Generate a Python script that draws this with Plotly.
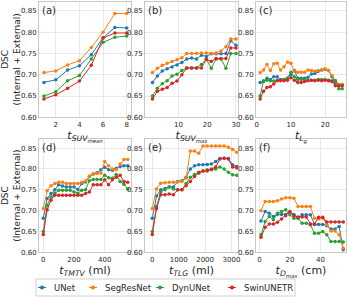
import plotly.graph_objects as go

# ---------------- data ----------------
MODELS = ["UNet", "SegResNet", "DynUNet", "SwinUNETR"]
COLORS = ["#1f77b4", "#ff7f0e", "#2ca02c", "#d62728"]
PANEL_LABELS = ["(a)", "(b)", "(c)", "(d)", "(e)", "(f)"]
X_TITLES = [
    "<i>t</i><sub><i>SUV</i><sub><i>mean</i></sub></sub>",
    "<i>t</i><sub><i>SUV</i><sub><i>max</i></sub></sub>",
    "<i>t</i><sub><i>L</i><sub><i>g</i></sub></sub>",
    "<i>t</i><sub><i>TMTV</i></sub> (ml)",
    "<i>t</i><sub><i>TLG</i></sub> (ml)",
    "<i>t</i><sub><i>D</i><sub><i>max</i></sub></sub> (cm)",
]
Y_TITLE = "DSC<br>(Internal + External)"
Y_TICKS = [0.60, 0.65, 0.70, 0.75, 0.80, 0.85]

# (a) SUVmean threshold
x_a = [1, 2, 3, 4, 5, 6, 7, 8]
unet_a = [0.682, 0.688, 0.711, 0.721, 0.747, 0.787, 0.811, 0.810]
segres_a = [0.705, 0.709, 0.723, 0.733, 0.764, 0.800, 0.844, 0.844]
dyn_a = [0.650, 0.660, 0.686, 0.698, 0.737, 0.776, 0.788, 0.791]
swin_a = [0.643, 0.653, 0.668, 0.685, 0.722, 0.786, 0.798, 0.798]

# (b) SUVmax threshold
x_b = [1.0, 2.7, 4.4, 6.1, 7.8, 9.5, 11.2, 12.9, 14.6, 16.3, 18.0, 19.7, 21.4, 23.1, 24.8, 26.5, 28.2, 30.0]
unet_b = [0.682, 0.697, 0.709, 0.714, 0.718, 0.723, 0.729, 0.737, 0.739, 0.737, 0.746, 0.743, 0.749, 0.749, 0.749, 0.750, 0.780, 0.769]
segres_b = [0.705, 0.715, 0.722, 0.727, 0.731, 0.735, 0.740, 0.750, 0.750, 0.750, 0.751, 0.751, 0.750, 0.751, 0.756, 0.766, 0.784, 0.784]
dyn_b = [0.650, 0.668, 0.679, 0.686, 0.697, 0.701, 0.710, 0.716, 0.716, 0.716, 0.724, 0.737, 0.715, 0.737, 0.737, 0.715, 0.750, 0.750]
swin_b = [0.643, 0.661, 0.666, 0.670, 0.680, 0.685, 0.700, 0.716, 0.716, 0.716, 0.716, 0.736, 0.731, 0.738, 0.738, 0.738, 0.763, 0.763]

# (c) Lg threshold
x_c = [1, 2, 3, 4, 5, 6, 7, 8, 9, 10, 11, 12, 13, 14, 15, 16, 17, 18, 19, 20, 21, 22, 23, 24, 25]
unet_c = [0.682, 0.684, 0.692, 0.689, 0.695, 0.695, 0.689, 0.689, 0.692, 0.700, 0.710, 0.692, 0.692, 0.692, 0.694,
          0.702, 0.703, 0.708, 0.711, 0.713, 0.710, 0.695, 0.682, 0.677, 0.677]
segres_c = [0.705, 0.711, 0.724, 0.710, 0.726, 0.727, 0.711, 0.719, 0.730, 0.727, 0.708, 0.706, 0.706, 0.706, 0.711,
            0.710, 0.708, 0.710, 0.711, 0.714, 0.710, 0.698, 0.686, 0.677, 0.677]
dyn_c = [0.650, 0.686, 0.687, 0.686, 0.685, 0.687, 0.687, 0.689, 0.692, 0.706, 0.695, 0.689, 0.689, 0.689, 0.687,
         0.687, 0.687, 0.689, 0.689, 0.689, 0.687, 0.686, 0.686, 0.667, 0.667]
swin_c = [0.643, 0.661, 0.670, 0.672, 0.678, 0.686, 0.686, 0.686, 0.687, 0.693, 0.687, 0.682, 0.682, 0.684, 0.686,
          0.687, 0.686, 0.687, 0.686, 0.687, 0.686, 0.684, 0.674, 0.674, 0.674]

# (d) TMTV threshold (ml)
x_d = [0, 25, 50, 75, 100, 125, 150, 175, 200, 225, 250, 275, 300, 325, 350, 375, 400, 425, 450, 475, 500, 525, 550]
unet_d = [0.682, 0.729, 0.741, 0.750, 0.762, 0.759, 0.757, 0.757, 0.757, 0.751, 0.765, 0.769, 0.782, 0.788, 0.791,
          0.798, 0.804, 0.798, 0.797, 0.802, 0.806, 0.808, 0.808]
segres_d = [0.705, 0.748, 0.760, 0.765, 0.768, 0.768, 0.765, 0.765, 0.765, 0.765, 0.768, 0.771, 0.783, 0.788, 0.789,
            0.790, 0.818, 0.808, 0.800, 0.798, 0.812, 0.823, 0.823]
dyn_d = [0.650, 0.713, 0.733, 0.742, 0.749, 0.749, 0.749, 0.749, 0.745, 0.742, 0.749, 0.750, 0.772, 0.775, 0.775,
         0.775, 0.785, 0.779, 0.778, 0.787, 0.770, 0.763, 0.752]
swin_d = [0.643, 0.702, 0.725, 0.737, 0.737, 0.737, 0.737, 0.737, 0.737, 0.737, 0.737, 0.741, 0.745, 0.762, 0.762,
          0.762, 0.774, 0.762, 0.774, 0.780, 0.785, 0.770, 0.768]

# (e) TLG threshold (ml)
x_e = [0, 160, 320, 480, 640, 800, 960, 1120, 1280, 1440, 1600, 1760, 1920, 2080, 2240, 2400, 2560, 2720, 2880, 3040, 3200]
unet_e = [0.682, 0.735, 0.750, 0.753, 0.757, 0.757, 0.770, 0.772, 0.780, 0.800, 0.808, 0.810, 0.810, 0.811, 0.812,
          0.818, 0.825, 0.826, 0.825, 0.810, 0.806]
segres_e = [0.705, 0.752, 0.766, 0.767, 0.768, 0.768, 0.769, 0.770, 0.778, 0.843, 0.843, 0.838, 0.855, 0.855, 0.855,
            0.855, 0.855, 0.855, 0.852, 0.847, 0.840]
dyn_e = [0.650, 0.710, 0.745, 0.750, 0.757, 0.752, 0.750, 0.750, 0.765, 0.780, 0.787, 0.790, 0.795, 0.798, 0.798,
         0.800, 0.805, 0.800, 0.792, 0.786, 0.785]
swin_e = [0.643, 0.705, 0.738, 0.738, 0.740, 0.738, 0.750, 0.750, 0.760, 0.770, 0.782, 0.792, 0.795, 0.795, 0.800,
          0.805, 0.824, 0.826, 0.824, 0.805, 0.803]

# (f) Dmax threshold (cm)
x_f = [1.0, 3.7, 6.4, 9.1, 11.8, 14.5, 17.2, 19.9, 22.6, 25.3, 28.0, 30.7, 33.4, 36.1, 38.8, 41.5, 44.2, 46.9, 49.6, 52.3, 55.0]
unet_f = [0.675, 0.698, 0.694, 0.686, 0.691, 0.691, 0.691, 0.696, 0.691, 0.683, 0.690, 0.690, 0.690, 0.667, 0.667,
          0.667, 0.664, 0.656, 0.656, 0.662, 0.606]
segres_f = [0.700, 0.722, 0.722, 0.722, 0.724, 0.728, 0.731, 0.731, 0.730, 0.710, 0.710, 0.710, 0.710, 0.682, 0.680,
            0.682, 0.666, 0.651, 0.651, 0.642, 0.610]
dyn_f = [0.642, 0.674, 0.686, 0.678, 0.694, 0.698, 0.702, 0.690, 0.682, 0.682, 0.670, 0.670, 0.666, 0.646, 0.646,
         0.650, 0.642, 0.626, 0.626, 0.626, 0.625]
swin_f = [0.636, 0.660, 0.668, 0.668, 0.672, 0.680, 0.688, 0.698, 0.688, 0.685, 0.685, 0.685, 0.668, 0.668, 0.684,
          0.684, 0.673, 0.673, 0.673, 0.673, 0.673]

X_TICKS = [[2, 4, 6, 8], [10, 20, 30], [0, 10, 20], [0, 200, 400], [0, 1000, 2000, 3000], [0, 20, 40]]

# ---------------- layout geometry ----------------
W, H = 349, 297
COLS = [(39, 131), (145, 238), (256, 346)]
ROWS = [(1.5, 117.3), (139, 252.3)]
X_RANGES = [[0.58, 8.36], [-1.6, 30.7], [-0.2, 26.1], [-28, 571], [-276, 3245], [-2.3, 56.8]]
Y_RANGE = [0.60, 0.872]

panels = [
    (x_a, [unet_a, segres_a, dyn_a, swin_a]),
    (x_b, [unet_b, segres_b, dyn_b, swin_b]),
    (x_c, [unet_c, segres_c, dyn_c, swin_c]),
    (x_d, [unet_d, segres_d, dyn_d, swin_d]),
    (x_e, [unet_e, segres_e, dyn_e, swin_e]),
    (x_f, [unet_f, segres_f, dyn_f, swin_f]),
]

FONT = "DejaVu Sans"
TXT = "#262626"

fig = go.Figure()
layout = dict(
    width=W, height=H, autosize=False,
    margin=dict(l=0, r=0, t=0, b=0),
    paper_bgcolor="white", plot_bgcolor="white",
    showlegend=False,
    font=dict(family=FONT, color=TXT, size=7),
)
annotations = []
shapes = []

for i, (xs, series) in enumerate(panels):
    r, c = divmod(i, 3)
    sfx = "" if i == 0 else str(i + 1)
    xid, yid = "x" + sfx, "y" + sfx
    for name, col, ys in zip(MODELS, COLORS, series):
        fig.add_trace(go.Scatter(
            x=xs, y=ys, mode="lines+markers", name=name,
            line=dict(color=col, width=1),
            marker=dict(color=col, size=3.5, symbol="circle"),
            xaxis=xid, yaxis=yid, showlegend=False,
        ))
    x0, x1 = COLS[c]
    ytop, ybot = ROWS[r]
    common = dict(showgrid=True, gridcolor="#e8e8e8", gridwidth=0.8,
                  showline=True, linecolor="#c8c8c8", linewidth=1, mirror=True,
                  ticks="", zeroline=False, automargin=False,
                  tickfont=dict(size=7, color=TXT, family=FONT))
    layout["xaxis" + sfx] = dict(domain=[x0 / W, x1 / W], range=X_RANGES[i], anchor=yid,
                                 tickvals=X_TICKS[i],
                                 title=dict(text=X_TITLES[i], standoff=0,
                                            font=dict(size=11, color=TXT, family=FONT)),
                                 **common)
    ydict = dict(domain=[1 - ybot / H, 1 - ytop / H], range=Y_RANGE, anchor=xid,
                 tickvals=Y_TICKS, tickformat=".2f", **common)
    if c == 0:
        ydict["title"] = dict(text=Y_TITLE, standoff=2, font=dict(size=9, color=TXT, family=FONT))
    layout["yaxis" + sfx] = ydict
    annotations.append(dict(text=PANEL_LABELS[i], xref=xid + " domain", yref=yid + " domain",
                            x=0.01, y=0.99, xanchor="left", yanchor="top", showarrow=False,
                            font=dict(size=10, color=TXT, family=FONT)))

# legend (frame, keys, labels)
LEG_Y = 287.5
LEG_MARK_X = [42, 93, 160, 232]
shapes.append(dict(type="rect", xref="paper", yref="paper", x0=36 / W, x1=295 / W,
                   y0=1 - 296 / H, y1=1 - 279 / H, line=dict(color="#d0d0d0", width=1),
                   fillcolor="white", layer="above"))
for name, col, mx in zip(MODELS, COLORS, LEG_MARK_X):
    shapes.append(dict(type="line", xref="paper", yref="paper", x0=(mx - 4) / W, x1=(mx + 4) / W,
                       y0=1 - LEG_Y / H, y1=1 - LEG_Y / H, line=dict(color=col, width=1), layer="above"))
    shapes.append(dict(type="circle", xref="paper", yref="paper", x0=(mx - 1.8) / W, x1=(mx + 1.8) / W,
                       y0=1 - (LEG_Y + 1.8) / H, y1=1 - (LEG_Y - 1.8) / H,
                       line=dict(color=col, width=0.5), fillcolor=col, layer="above"))
    annotations.append(dict(text=name, xref="paper", yref="paper", x=(mx + 10) / W, y=1 - LEG_Y / H,
                            xanchor="left", yanchor="middle", showarrow=False,
                            font=dict(size=8.5, color=TXT, family=FONT)))

layout["annotations"] = annotations
layout["shapes"] = shapes
fig.update_layout(**layout)
fig.write_html("out.html",
               config={"displayModeBar": False},
               post_script="document.body.style.margin='0px';document.body.style.overflow='hidden';")
